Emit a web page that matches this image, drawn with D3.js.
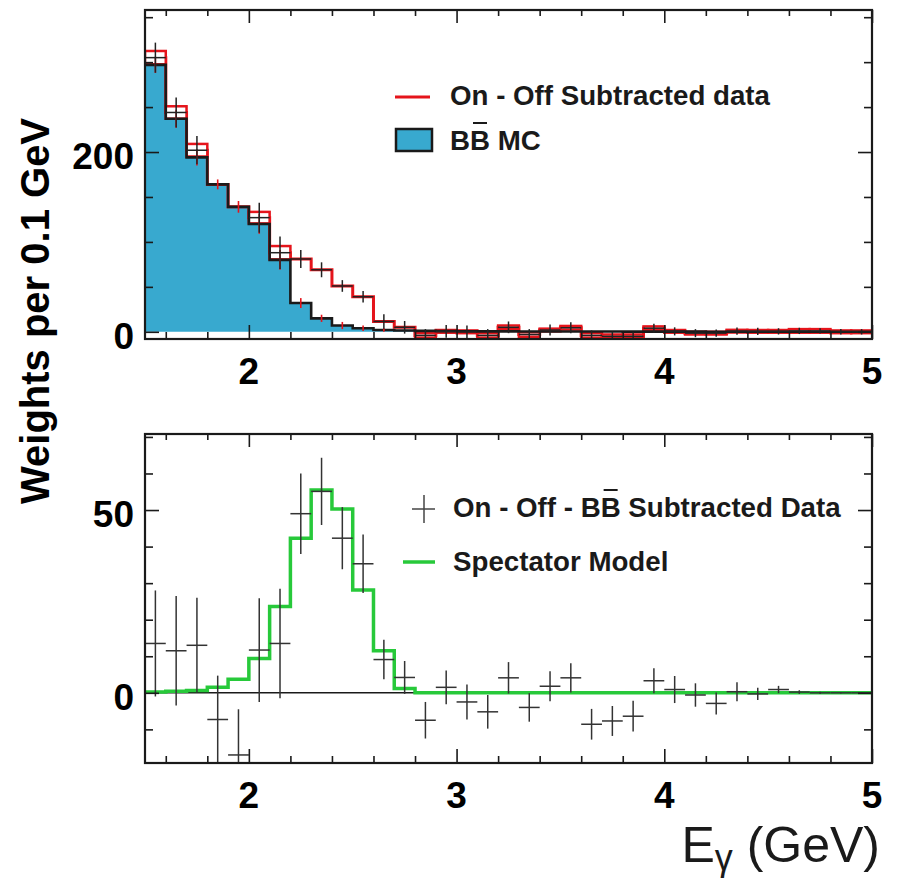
<!DOCTYPE html>
<html>
<head>
<meta charset="utf-8">
<script src="https://cdn.jsdelivr.net/npm/d3@7"></script>
<style>
  body { margin: 0; background: #fff; }
  svg { display: block; }
</style>
</head>
<body>
<script>
// Photon energy bins (lower edges, GeV), width 0.1 GeV
const binLow = [1.5, 1.6, 1.7, 1.8, 1.9, 2.0, 2.1, 2.2, 2.3, 2.4, 2.5, 2.6, 2.7, 2.8, 2.9,
                3.0, 3.1, 3.2, 3.3, 3.4, 3.5, 3.6, 3.7, 3.8, 3.9, 4.0, 4.1, 4.2, 4.3, 4.4,
                4.5, 4.6, 4.7, 4.8, 4.9];
const binWidth = 0.1;

// Upper panel: BB MC (filled) and On - Off subtracted data
const mcWeights = [297, 237, 194, 164, 139, 120, 80, 32, 15, 7, 4, 2, 1.5, 1, 0.8,
                   0.6, 0.5, 0.5, 0.4, 0.4, 0.3, 0.3, 0.3, 0.2, 0.2, 0.2, 0.2, 0.1, 0.1, 0.1,
                   0.1, 0.1, 0.1, 0.1, 0.1];
const mcErrors = [9, 10, 9, 5.5, 6.5, 11, 11, 5.5, 4, 4, 3, 2, 0, 0, 0,
                  0, 0, 0, 0, 0, 0, 0, 0, 0, 0, 0, 0, 0, 0, 0,
                  0, 0, 0, 0, 0];
const onOffData = [305, 244, 202, 164, 139, 127, 88, 81, 69, 51, 39, 11.5, 5, -4, 0.5,
                   0, -4, 5, -3, 2, 4.5, -4, -5, -5, 4, 0.5, -1.5, -1.5, 0.7, 0.5,
                   0.5, 1, 1, 0, 0];
const onOffBox = [7.4, 6.9, 7, 0, 0, 6.4, 7.4, 0, 0, 0, 0, 0, 0, 2.5, 1.5,
                  1.5, 2.5, 2, 2.5, 1.5, 2, 2.5, 2, 2, 2, 1.5, 1.5, 1.5, 1.5, 1.5,
                  1.5, 2, 2, 1.5, 1.5];
const onOffErrors = [16.7, 16.7, 15.7, 0, 0, 16.7, 18, 10, 8.3, 6.5, 6.4, 8, 7, 7, 7,
                     7, 7, 6.5, 6, 6, 6, 5.5, 5.5, 5, 5, 4.5, 4.5, 4, 4, 4,
                     3.5, 3.5, 3, 3, 3];

// Lower panel: On - Off - BB subtracted data and spectator model
const subtracted = [13.5, 11.5, 13, -7.3, -17, 11.7, 13.5, 49, 55.1, 42.3, 35.3, 9.1, 4.2, -7.5, 1.5,
                    -2.5, -5.2, 4.1, -4, 1.8, 4.1, -8.6, -7.7, -6.4, 3.3, 0.9, -0.6, -2.9, 0.3, -0.3,
                    0.9, 0.2, 0, 0, 0];
const subtractedErrors = [14.5, 15, 13, 12, 12.5, 14.2, 15, 11, 9.2, 8.5, 8, 5.4, 4.5, 5, 4.6,
                          4.8, 4.6, 4.3, 3.9, 4.1, 4, 4.2, 4.1, 4.2, 3.4, 3.7, 3.2, 3, 2.6, 1.7,
                          1, 0.5, 0.3, 0.2, 0.2];
const spectatorModel = [0.2, 0.4, 0.6, 1.5, 3.7, 9.4, 23.6, 42.3, 55.5, 50.3, 28.1, 11.5, 1.2, 0, 0,
                        0, 0, 0, 0, 0, 0, 0, 0, 0, 0, 0, 0, 0, 0, 0,
                        0, 0, 0, 0, 0];

// Axis labels
const xTickLabels = [2, 3, 4, 5];
const topYTickLabels = [0, 200];
const topYMinor = [50, 100, 150, 250, 300, 350];
const bottomYTickLabels = [0, 50];
const bottomYMinor = [-10, 10, 20, 30, 40, 60, 70];
const xMinor = [1.6, 1.8, 2.2, 2.4, 2.6, 2.8, 3.2, 3.4, 3.6, 3.8, 4.2, 4.4, 4.6, 4.8];

const FONT = "'Liberation Sans', Arial, Helvetica, sans-serif";
const BLUE = "#38a9cf", RED = "#e5141b", GREEN = "#27c93a", INK = "#1a1a1a";

const svg = d3.select("body").append("svg").attr("width", 897).attr("height", 882);

const x = d3.scaleLinear().domain([1.5, 5]).range([145, 872]);
const yT = d3.scaleLinear().domain([-8, 358]).range([339, 10]);
const yB = d3.scaleLinear().domain([-19.2, 70.8]).range([763, 434]);

function stepPoints(vals) {
  const pts = [];
  vals.forEach((v, i) => { pts.push([binLow[i], v], [binLow[i] + binWidth, v]); });
  return pts;
}

const defs = svg.append("defs");
function clip(id, y) {
  defs.append("clipPath").attr("id", id).append("rect")
    .attr("x", x.range()[0]).attr("y", y.range()[1])
    .attr("width", x.range()[1] - x.range()[0]).attr("height", y.range()[0] - y.range()[1]);
}
clip("clipTop", yT);
clip("clipBot", yB);

// ---------- upper panel ----------
const gT = svg.append("g").attr("clip-path", "url(#clipTop)");
const lineT = d3.line().x(d => x(d[0])).y(d => yT(d[1]));

gT.append("path")
  .attr("d", d3.area().x(d => x(d[0])).y0(yT(0)).y1(d => yT(d[1]))(stepPoints(mcWeights)))
  .attr("fill", BLUE);

gT.append("path").attr("d", lineT(stepPoints(onOffData)))
  .attr("fill", "none").attr("stroke", RED).attr("stroke-width", 3);

gT.selectAll("rect.box").data(binLow.map((lo, i) => ({ lo, v: onOffData[i], b: onOffBox[i] })).filter(d => d.b > 0))
  .join("rect").attr("class", "box")
  .attr("x", d => x(d.lo)).attr("width", d => x(d.lo + binWidth) - x(d.lo))
  .attr("y", d => yT(d.v + d.b)).attr("height", d => yT(d.v - d.b) - yT(d.v + d.b))
  .attr("fill", "#fff").attr("stroke", RED).attr("stroke-width", 2.5);

gT.append("path").attr("d", lineT(stepPoints(mcWeights)))
  .attr("fill", "none").attr("stroke", INK).attr("stroke-width", 2.6);

gT.selectAll("line.mcerr").data(binLow.map((lo, i) => ({ lo, v: mcWeights[i], e: mcErrors[i] })).filter(d => d.e > 0))
  .join("line").attr("class", "mcerr")
  .attr("x1", d => x(d.lo + binWidth / 2)).attr("x2", d => x(d.lo + binWidth / 2))
  .attr("y1", d => yT(d.v - d.e)).attr("y2", d => yT(d.v + d.e))
  .attr("stroke", RED).attr("stroke-width", 1.6);

function crosses(g, y, vals, errs, color, width) {
  const pts = binLow.map((lo, i) => ({ lo, v: vals[i], e: errs[i] })).filter(d => d.e > 0);
  const c = g.append("g").attr("stroke", color).attr("stroke-width", width);
  c.selectAll("line.h").data(pts).join("line").attr("class", "h")
    .attr("x1", d => x(d.lo)).attr("x2", d => x(d.lo + binWidth))
    .attr("y1", d => y(d.v)).attr("y2", d => y(d.v));
  c.selectAll("line.v").data(pts).join("line").attr("class", "v")
    .attr("x1", d => x(d.lo + binWidth / 2)).attr("x2", d => x(d.lo + binWidth / 2))
    .attr("y1", d => y(d.v - d.e)).attr("y2", d => y(d.v + d.e));
}
crosses(gT, yT, onOffData, onOffErrors, "#222", 1.5);

// ---------- lower panel ----------
const gB = svg.append("g").attr("clip-path", "url(#clipBot)");
gB.append("line").attr("x1", x(1.5)).attr("x2", x(5)).attr("y1", yB(0)).attr("y2", yB(0))
  .attr("stroke", INK).attr("stroke-width", 1.5);
gB.append("path")
  .attr("d", d3.line().x(d => x(d[0])).y(d => yB(d[1]))(stepPoints(spectatorModel)))
  .attr("fill", "none").attr("stroke", GREEN).attr("stroke-width", 3.5);
crosses(gB, yB, subtracted, subtractedErrors, "#333", 1.5);

// ---------- frames, ticks, labels ----------
function frame(y, yMajor, yMinor) {
  const [bot, top] = y.range();
  const g = svg.append("g");
  const add = (axis, tx, ty) => g.append("g").attr("transform", `translate(${tx},${ty})`)
      .call(axis).call(s => s.select(".domain").remove())
      .call(s => s.selectAll("line").attr("stroke", INK).attr("stroke-width", 1.6));
  add(d3.axisBottom(x).tickValues(xMinor).tickSize(-7).tickFormat(""), 0, bot);
  add(d3.axisBottom(x).tickValues(xTickLabels).tickSize(-14).tickFormat(""), 0, bot);
  add(d3.axisTop(x).tickValues(xMinor).tickSize(-6).tickFormat(""), 0, top);
  add(d3.axisTop(x).tickValues(xTickLabels).tickSize(-13).tickFormat(""), 0, top);
  add(d3.axisLeft(y).tickValues(yMinor).tickSize(-8).tickFormat(""), x.range()[0], 0);
  add(d3.axisLeft(y).tickValues(yMajor).tickSize(-14).tickFormat(""), x.range()[0], 0);
  add(d3.axisRight(y).tickValues(yMinor).tickSize(-8).tickFormat(""), x.range()[1], 0);
  add(d3.axisRight(y).tickValues(yMajor).tickSize(-14).tickFormat(""), x.range()[1], 0);
  g.append("rect").attr("x", x.range()[0]).attr("y", top)
    .attr("width", x.range()[1] - x.range()[0]).attr("height", bot - top)
    .attr("fill", "none").attr("stroke", INK).attr("stroke-width", 2.2);

  g.selectAll("text.xl").data(xTickLabels).join("text").attr("class", "xl")
    .attr("x", d => x(d)).attr("y", bot + 45).attr("text-anchor", "middle")
    .attr("font-family", FONT).attr("font-weight", "bold").attr("font-size", 37).text(d => d);
  g.selectAll("text.yl").data(yMajor).join("text").attr("class", "yl")
    .attr("x", 134).attr("y", d => y(d) + 17).attr("text-anchor", "end")
    .attr("font-family", FONT).attr("font-weight", "bold").attr("font-size", 37).text(d => d);
}
frame(yT, topYTickLabels, topYMinor);
frame(yB, bottomYTickLabels, bottomYMinor);

// y-axis title
svg.append("text").attr("transform", "translate(49,504) rotate(-90)")
  .attr("font-family", FONT).attr("font-weight", "bold").attr("font-size", 40)
  .text("Weights per 0.1 GeV");

// x-axis title
const xt = svg.append("text").attr("x", 880).attr("y", 862).attr("text-anchor", "end")
  .attr("font-family", FONT).attr("font-size", 50).attr("fill", INK);
xt.append("tspan").text("E");
xt.append("tspan").attr("font-size", 36).attr("dy", 8).text("γ");
xt.append("tspan").attr("dy", -8).text(" (GeV)");

// ---------- legends ----------
function legendText(tx, ty, str, barIndex) {
  const t = svg.append("text").attr("x", tx).attr("y", ty)
    .attr("font-family", FONT).attr("font-weight", "bold").attr("font-size", 27.7).attr("fill", INK)
    .text(str);
  if (barIndex != null) {
    const n = t.node();
    const s = n.getStartPositionOfChar(barIndex).x, e = n.getEndPositionOfChar(barIndex).x;
    svg.append("line").attr("x1", s + 3).attr("x2", e - 3).attr("y1", ty - 27).attr("y2", ty - 27)
      .attr("stroke", INK).attr("stroke-width", 2);
  }
}
svg.append("line").attr("x1", 395).attr("x2", 430).attr("y1", 97).attr("y2", 97)
  .attr("stroke", RED).attr("stroke-width", 3);
legendText(450, 105, "On - Off Subtracted data");
svg.append("rect").attr("x", 396).attr("y", 129).attr("width", 36).attr("height", 22)
  .attr("fill", BLUE).attr("stroke", INK).attr("stroke-width", 2.5);
legendText(450, 150, "BB MC", 1);

svg.append("line").attr("x1", 412).attr("x2", 435).attr("y1", 509).attr("y2", 509)
  .attr("stroke", "#444").attr("stroke-width", 1.5);
svg.append("line").attr("x1", 424).attr("x2", 424).attr("y1", 495).attr("y2", 523)
  .attr("stroke", "#444").attr("stroke-width", 1.5);
legendText(453, 517, "On - Off - BB Subtracted Data", 12);
svg.append("line").attr("x1", 403).attr("x2", 435).attr("y1", 562).attr("y2", 562)
  .attr("stroke", GREEN).attr("stroke-width", 3.5);
legendText(453, 571, "Spectator Model");
</script>
</body>
</html>
